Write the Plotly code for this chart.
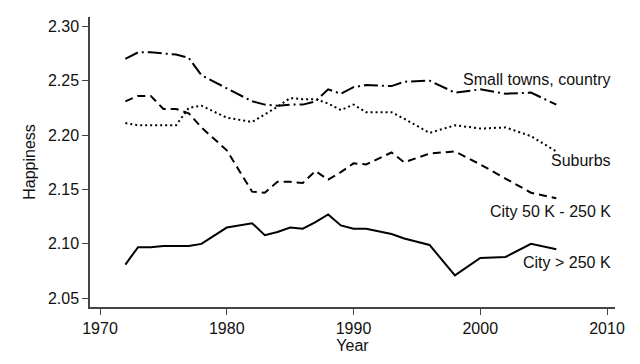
import plotly.graph_objects as go

years = [1972, 1973, 1974, 1975, 1976, 1977, 1978, 1980, 1982, 1983, 1984, 1985, 1986,
         1987, 1988, 1989, 1990, 1991, 1993, 1994, 1996, 1998, 2000, 2002, 2004, 2006]

small_towns = [2.270, 2.276, 2.276, 2.275, 2.274, 2.271, 2.255, 2.243, 2.231, 2.228, 2.227, 2.228, 2.228,
               2.231, 2.242, 2.238, 2.244, 2.246, 2.245, 2.249, 2.250, 2.239, 2.242, 2.238, 2.239, 2.228]
suburbs = [2.211, 2.209, 2.209, 2.209, 2.209, 2.225, 2.227, 2.216, 2.212, 2.219, 2.226, 2.234, 2.233,
           2.233, 2.229, 2.223, 2.228, 2.221, 2.221, 2.215, 2.202, 2.209, 2.206, 2.207, 2.199, 2.185]
city_mid = [2.231, 2.236, 2.236, 2.224, 2.224, 2.220, 2.207, 2.186, 2.148, 2.147, 2.157, 2.157, 2.156,
            2.167, 2.159, 2.166, 2.174, 2.173, 2.184, 2.175, 2.183, 2.185, 2.173, 2.160, 2.147, 2.142]
city_big = [2.081, 2.097, 2.097, 2.098, 2.098, 2.098, 2.100, 2.115, 2.119, 2.108, 2.111, 2.115, 2.114,
            2.120, 2.127, 2.117, 2.114, 2.114, 2.109, 2.105, 2.099, 2.071, 2.087, 2.088, 2.100, 2.095]

series_names = ["Small towns, country", "Suburbs", "City 50 K - 250 K", "City > 250 K"]
series_vals = [small_towns, suburbs, city_mid, city_big]
dashes = ["14px,4px,2px,4px", "2px,3px", "8px,5px", "solid"]
label_y = [2.2515, 2.1765, 2.1295, 2.0825]

x_ticks = [1970, 1980, 1990, 2000, 2010]
y_ticks = [2.05, 2.10, 2.15, 2.20, 2.25, 2.30]

FONT = "Liberation Sans, Arial, sans-serif"

fig = go.Figure()
for name, vals, d in zip(series_names, series_vals, dashes):
    fig.add_trace(go.Scatter(x=years, y=vals, mode="lines", name=name,
                             line=dict(color="black", width=2, dash=d)))

for name, ly in zip(series_names, label_y):
    fig.add_annotation(x=0.9962, xref="paper", y=ly, yref="y", text=name,
                       showarrow=False, xanchor="right", yanchor="middle",
                       font=dict(family=FONT, size=16, color="#111"))

fig.update_layout(
    width=640, height=364,
    margin=dict(l=82, r=33, t=9, b=65),
    plot_bgcolor="white", paper_bgcolor="white",
    showlegend=False,
    font=dict(family=FONT, size=16, color="#111"),
    xaxis=dict(range=[1969.21, 2010.63], tickvals=x_ticks, ticktext=[str(t) for t in x_ticks],
               showgrid=False, zeroline=False, showline=True, linecolor="#444", linewidth=1.5,
               ticks="outside", ticklen=6, tickcolor="#444", automargin=False,
               tickfont=dict(family=FONT, size=16, color="#111"),
               title=dict(text="Year", font=dict(size=16), standoff=4)),
    yaxis=dict(range=[2.042, 2.3085], tickvals=y_ticks, ticktext=[f"{t:.2f}" for t in y_ticks],
               showgrid=False, zeroline=False, showline=True, linecolor="#444", linewidth=1.5,
               ticks="outside", ticklen=6, tickcolor="#444", automargin=False,
               tickfont=dict(family=FONT, size=16, color="#111"),
               title=dict(text="Happiness", font=dict(size=16), standoff=8)),
)

fig.write_html("out.html")
